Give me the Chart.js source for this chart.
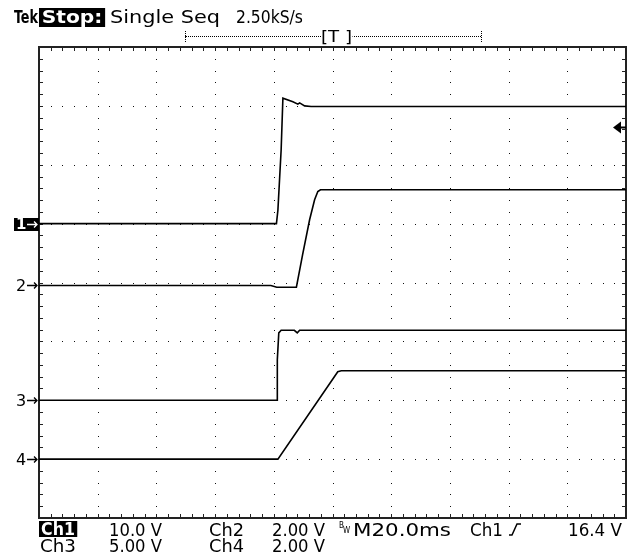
<!DOCTYPE html>
<html>
<head>
<meta charset="utf-8">
<script src="https://cdn.jsdelivr.net/npm/chart.js@4.4.0/dist/chart.umd.min.js"></script>
<style>
  html, body { margin: 0; padding: 0; background: #fff; }
  #wrap { position: relative; width: 635px; height: 556px; overflow: hidden; }
  #scope { position: absolute; left: 0; top: 0; }
  .t { position: absolute; font-family: "DejaVu Sans Condensed", "DejaVu Sans", sans-serif; font-stretch: condensed;
       font-size: 17px; line-height: 1; color: #000; white-space: pre; transform-origin: 0 0; }
  .inv { background: #000; color: #fff; font-weight: bold; padding: 0 2px; }
  .tiny { font-size: 8px; }
  .dotline { position: absolute; border-top: 1px dotted #000; height: 0; }
  .dotv { position: absolute; border-left: 1px dotted #000; width: 0; }
</style>
</head>
<body>
<div id="wrap">
  <canvas id="scope" width="635" height="556"></canvas>

  <!-- header -->
  <div class="t" data-w="24" style="left:14px;top:8px;font-size:18px;font-weight:bold">Tek</div>
  <div class="t inv" data-w="66" style="left:39px;top:8px;font-size:17px;height:18px;padding-top:1px">Stop:</div>
  <div class="t" data-w="110" style="left:110px;top:8px;font-size:18px">Single Seq</div>
  <div class="t" data-w="67" style="left:236px;top:8px;font-size:18px">2.50kS/s</div>

  <!-- record bar -->
  <div class="dotline" style="left:185px;top:36px;width:296px"></div>
  <div class="dotv" style="left:185px;top:31px;height:11px"></div>
  <div class="dotv" style="left:481px;top:31px;height:11px"></div>
  <div class="t" data-w="31" style="left:321px;top:29px;font-size:16px;background:#fff">[T ]</div>

  <!-- readout -->
  <div class="t inv" data-w="38" style="left:39px;top:521px;height:16px">Ch1</div>
  <div class="t" data-w="53" style="left:109px;top:522px">10.0 V</div>
  <div class="t" data-w="35" style="left:209px;top:522px">Ch2</div>
  <div class="t" data-w="53" style="left:272px;top:522px">2.00 V</div>
  <div class="t tiny" style="left:339px;top:522px">B</div>
  <div class="t tiny" style="left:343px;top:527px">W</div>
  <div class="t" data-w="98" style="left:353px;top:522px">M20.0ms</div>
  <div class="t" data-w="33" style="left:470px;top:522px">Ch1</div>
  <div class="t" data-w="54" style="left:568px;top:522px">16.4 V</div>

  <div class="t" data-w="36" style="left:40px;top:538px">Ch3</div>
  <div class="t" data-w="53" style="left:109px;top:538px">5.00 V</div>
  <div class="t" data-w="35" style="left:209px;top:538px">Ch4</div>
  <div class="t" data-w="53" style="left:272px;top:538px">2.00 V</div>
</div>

<script>
// scope settings
const msPerDiv = 20;
const channelNames = ['1', '2', '3', '4'];
const voltsPerDiv = [10, 2, 5, 2];
const groundDiv = [5.0, 3.95, 2.0, 1.0];   // ground marker, divisions above bottom
const triggerLevel = 16.4;                  // volts on Ch1

// traces (time in ms from left edge, volts)
const ch1Time  = [0, 80.9, 81.4, 82.5, 83.1, 86.5, 88.2, 88.8, 90.5, 92.7, 200];
const ch1Volts = [0, 0, 2.3, 12.5, 21.3, 20.7, 20.3, 20.5, 20.0, 19.9, 19.9];

const ch2Time  = [0, 79.0, 81.0, 87.7, 89.8, 92.2, 93.9, 95.0, 95.9, 200];
const ch2Volts = [0, 0, -0.06, -0.06, 1.04, 2.23, 2.91, 3.19, 3.25, 3.25];

const ch3Time  = [0, 81.1, 81.2, 81.7, 82.5, 87.0, 88.0, 88.8, 200];
const ch3Volts = [0, 0, 3.45, 5.72, 5.94, 5.94, 5.72, 5.94, 5.94];

const ch4Time  = [0, 81.4, 101.8, 103.0, 200];
const ch4Volts = [0, 0, 2.97, 3.0, 3.0];

const times = [ch1Time, ch2Time, ch3Time, ch4Time];
const volts = [ch1Volts, ch2Volts, ch3Volts, ch4Volts];

function toDivs(ch) {
  return times[ch].map((t, i) => ({ x: t, y: groundDiv[ch] + volts[ch][i] / voltsPerDiv[ch] }));
}

// graticule: dotted major lines, frame with minor ticks
const graticule = {
  id: 'graticule',
  beforeDatasetsDraw(chart) {
    const { ctx, chartArea: a, scales: { x, y } } = chart;
    ctx.save();
    ctx.fillStyle = '#111';
    for (let i = 1; i < 10; i++) {
      const px = Math.round(x.getPixelForValue(i * msPerDiv));
      for (let j = 0; j <= 40; j++) {
        ctx.fillRect(px, Math.round(y.getPixelForValue(j * 0.2)), 1, 1);
      }
    }
    for (let j = 1; j < 8; j++) {
      const py = Math.round(y.getPixelForValue(j));
      for (let i = 0; i <= 50; i++) {
        ctx.fillRect(Math.round(x.getPixelForValue(i * msPerDiv / 5)), py, 1, 1);
      }
    }
    // edge ticks
    ctx.strokeStyle = '#222';
    ctx.lineWidth = 1;
    ctx.beginPath();
    for (let i = 1; i < 50; i++) {
      const px = Math.round(x.getPixelForValue(i * msPerDiv / 5)) + 0.5;
      ctx.moveTo(px, a.top); ctx.lineTo(px, a.top + 4);
      ctx.moveTo(px, a.bottom); ctx.lineTo(px, a.bottom - 4);
    }
    for (let j = 1; j < 40; j++) {
      const py = Math.round(y.getPixelForValue(j * 0.2)) + 0.5;
      ctx.moveTo(a.left, py); ctx.lineTo(a.left + 4, py);
      ctx.moveTo(a.right, py); ctx.lineTo(a.right - 4, py);
    }
    ctx.stroke();
    ctx.lineWidth = 2;
    ctx.strokeStyle = '#222';
    ctx.strokeRect(a.left, a.top, a.right - a.left, a.bottom - a.top);
    ctx.restore();
  },
  afterDraw(chart) {
    const { ctx, chartArea: a, scales: { y } } = chart;
    ctx.save();
    ctx.textBaseline = 'middle';
    channelNames.forEach((name, ch) => {
      const py = Math.round(y.getPixelForValue(groundDiv[ch])) + 0.5;
      if (ch === 0) {
        ctx.font = 'bold 15px "DejaVu Sans", sans-serif';
        ctx.fillStyle = '#000';
        ctx.fillRect(14, py - 6.5, a.left - 14, 13);
        ctx.fillStyle = '#fff';
        ctx.strokeStyle = '#fff';
      } else {
        ctx.font = '16px "DejaVu Sans", sans-serif';
        ctx.fillStyle = '#000';
        ctx.strokeStyle = '#000';
      }
      ctx.fillText(name, 16, py + 1);
      ctx.lineWidth = 1.3;
      ctx.beginPath();
      ctx.moveTo(27, py); ctx.lineTo(37, py);
      ctx.moveTo(34, py - 3); ctx.lineTo(37, py); ctx.lineTo(34, py + 3);
      ctx.stroke();
    });
    // trigger level arrow on the right edge
    const ty = Math.round(y.getPixelForValue(groundDiv[0] + triggerLevel / voltsPerDiv[0])) + 0.5;
    ctx.fillStyle = '#000';
    ctx.beginPath();
    ctx.moveTo(613, ty); ctx.lineTo(621, ty - 6); ctx.lineTo(621, ty + 6); ctx.closePath();
    ctx.fill();
    ctx.fillRect(620, ty - 1, a.right - 620, 2);
    // trigger slope symbol in the readout
    ctx.strokeStyle = '#000';
    ctx.lineWidth = 1.5;
    ctx.beginPath();
    ctx.moveTo(509, 535); ctx.lineTo(512, 535); ctx.lineTo(517, 524); ctx.lineTo(521, 524);
    ctx.stroke();
    ctx.restore();
  }
};

new Chart(document.getElementById('scope'), {
  type: 'line',
  data: {
    datasets: channelNames.map((name, ch) => ({
      label: 'Ch' + name,
      data: toDivs(ch),
      borderColor: '#000',
      borderWidth: 1.6,
      pointRadius: 0,
      tension: 0,
      fill: false
    }))
  },
  options: {
    responsive: false,
    animation: false,
    layout: { padding: { left: 39, top: 47, right: 9, bottom: 38 } },
    scales: {
      x: { type: 'linear', min: 0, max: 10 * msPerDiv, display: false },
      y: { type: 'linear', min: 0, max: 8, display: false }
    },
    plugins: { legend: { display: false }, tooltip: { enabled: false } }
  },
  plugins: [graticule]
});

// squeeze readout words to the width they take on the scope screen
document.querySelectorAll('.t[data-w]').forEach(el => {
  const w = el.getBoundingClientRect().width;
  el.style.transform = 'scaleX(' + (parseFloat(el.dataset.w) / w) + ')';
});
</script>
</body>
</html>
